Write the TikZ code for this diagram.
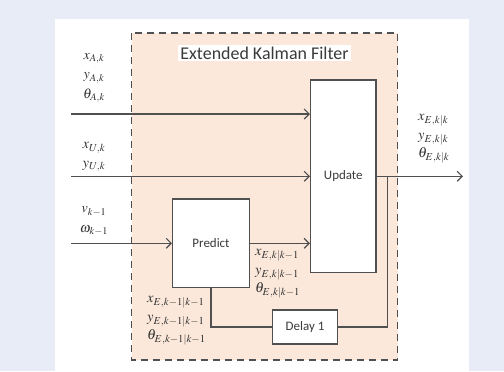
\documentclass[tikz,border=0pt]{standalone}
\usepackage{mathptmx}
\usepackage{fontspec}
\setsansfont{Carlito}
\usetikzlibrary{arrows.meta}
\definecolor{bgblue}{HTML}{E8ECF6}
\definecolor{peach}{HTML}{FBE8DA}
\definecolor{linec}{HTML}{505050}
\definecolor{txtc}{HTML}{3A3A3A}
\definecolor{mathc}{HTML}{333333}
\tikzset{
  blk/.style={draw=linec, line width=1.3bp, fill=white, inner sep=0pt, font=\sffamily\fontsize{13}{15}\selectfont, text=txtc},
  conn/.style={draw=linec, line width=1.3bp},
  arr/.style={conn, -{Straight Barb[length=5bp,width=10bp,line width=1.2bp]}},
  lbl/.style={inner sep=0pt, text=mathc, font=\fontsize{14.5}{18.5}\selectfont},
  lblwide/.style={lbl, font=\fontsize{14}{19.5}\selectfont},
}
\begin{document}
\begin{tikzpicture}[x=1bp,y=-1bp]
\useasboundingbox (0,0) rectangle (504,371);
\fill[bgblue] (0,0) rectangle (504,371);
\fill[white] (55,19) rectangle (469,371);
\draw[draw=linec, fill=peach, line width=1.4bp, dash pattern=on 7bp off 5bp] (131.7,33) rectangle (397.7,360);
\node[fill=white, inner xsep=2bp, inner ysep=2bp, text=txtc, font=\sffamily\fontsize{18}{20}\selectfont] (title) at (264.5,53) {Extended Kalman Filter};
\node[blk, minimum width=65.3bp, minimum height=192.7bp] (update) at (343.3,176.3) {Update};
\node[blk, minimum width=76.6bp, minimum height=88.7bp] (predict) at (211,243.3) {Predict};
\node[blk, minimum width=64.6bp, minimum height=34bp] (delay) at (305,327) {Delay 1};
\coordinate (inA) at (71,114);
\coordinate (inU) at (71,176.3);
\coordinate (inV) at (71,243.3);
\coordinate (out) at (463,176.3);
\coordinate (fb) at (387.7,176.3);
\draw[arr] (inA) -- (inA -| update.west);
\draw[arr] (inU) -- (update.west);
\draw[arr] (inV) -- (predict.west);
\draw[arr] (predict.east) -- (predict.east -| update.west);
\draw[arr] (update.east) -- (out);
\draw[conn] (fb) |- (delay.east);
\draw[conn] (delay.west) -| (predict.south);
\node[lblwide, align=center] (lA) at (94,78) {$x_{A,k}$\\$y_{A,k}$\\$\theta_{A,k}$};
\node[lbl, align=center] (lU) at (94,157) {$x_{U,k}$\\$y_{U,k}$};
\node[lblwide, align=center] (lV) at (94,221) {$v_{k-1}$\\$\omega_{k-1}$};
\node[lbl, align=left, anchor=west] (lP) at (255,274) {$x_{E,k|k-1}$\\$y_{E,k|k-1}$\\$\theta_{E,k|k-1}$};
\node[lbl, align=left, anchor=west] (lD) at (147,321) {$x_{E,k-1|k-1}$\\$y_{E,k-1|k-1}$\\$\theta_{E,k-1|k-1}$};
\node[lbl, align=left, anchor=west] (lO) at (418,139) {$x_{E,k|k}$\\$y_{E,k|k}$\\$\theta_{E,k|k}$};
\end{tikzpicture}
\end{document}
